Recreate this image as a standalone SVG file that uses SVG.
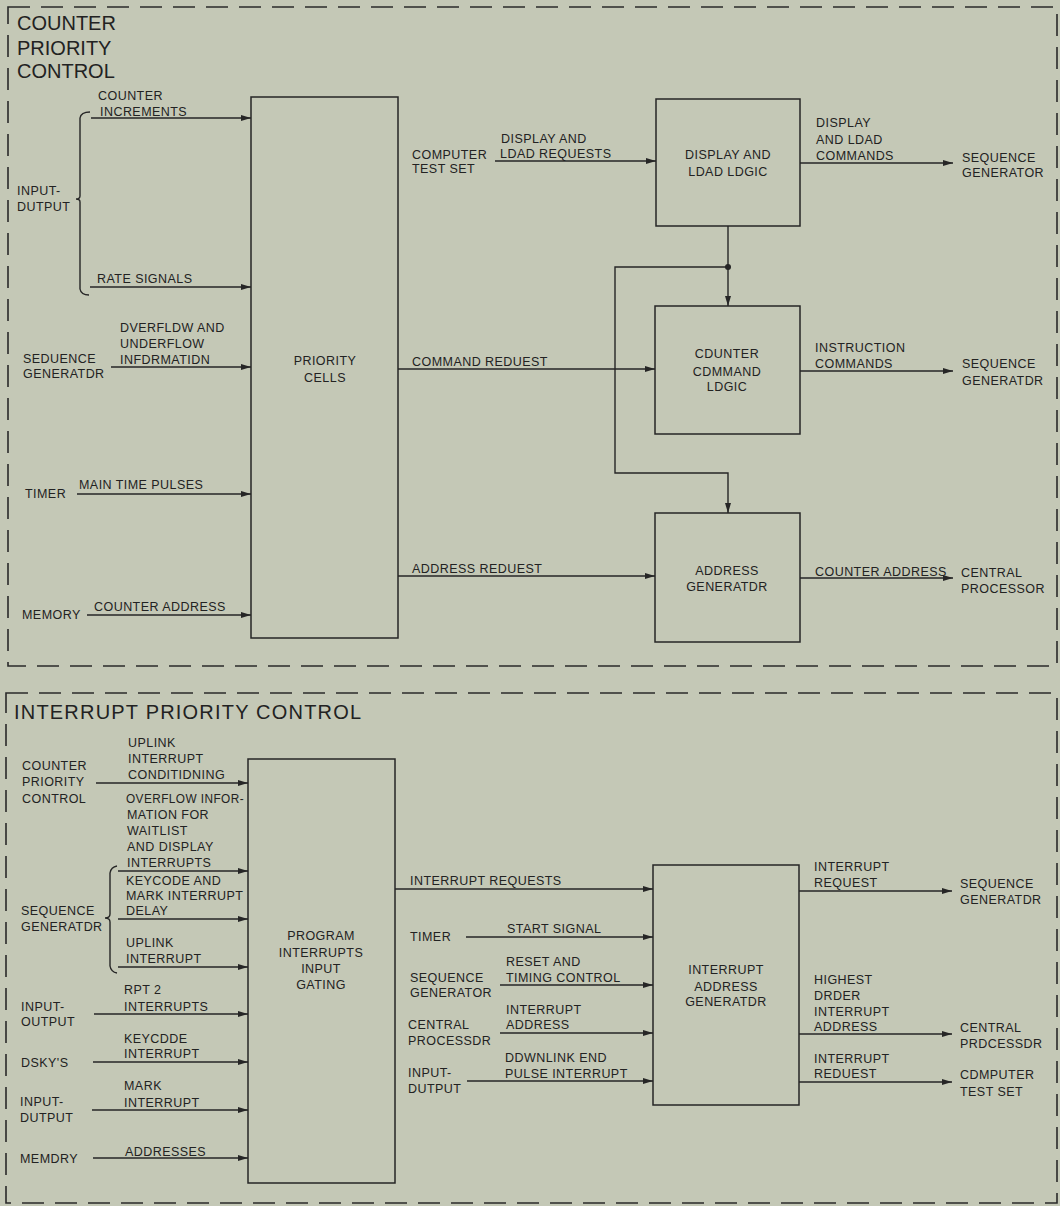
<svg xmlns="http://www.w3.org/2000/svg" width="1060" height="1206" viewBox="0 0 1060 1206">
<defs>
<style>
.bg{fill:#c4c8b6}
.frame{fill:none;stroke:#2a2a2a;stroke-width:1.6;stroke-dasharray:22 11}
.box{fill:none;stroke:#262626;stroke-width:1.5}
.ln{fill:none;stroke:#262626;stroke-width:1.4}
.ar{fill:none;stroke:#262626;stroke-width:1.4;marker-end:url(#ah)}
text{font-family:"Liberation Sans",Arial,sans-serif;fill:#222}
.t{font-size:12.5px;letter-spacing:0.45px}
.c{text-anchor:middle}
.big{font-size:20px}
</style>
<marker id="ah" viewBox="0 0 10 6" refX="10" refY="3" markerWidth="11" markerHeight="6" markerUnits="userSpaceOnUse" orient="auto">
<path d="M0,0 L10,3 L0,6 Z" fill="#262626"/>
</marker>
</defs>
<rect class="bg" x="0" y="0" width="1060" height="1206"/>

<g id="counter-priority-control">
<rect class="frame" x="8" y="7" width="1049" height="659"/>
<text class="big" x="17" y="30">COUNTER</text>
<text class="big" x="17" y="55">PRIORITY</text>
<text class="big" x="17" y="78">CONTROL</text>
</g>

<g id="interrupt-priority-control">
<rect class="frame" x="6" y="693" width="1051" height="510"/>
<text class="big" x="14" y="719" style="letter-spacing:1.2px">INTERRUPT PRIORITY CONTROL</text>
</g>

<g id="priority-cells">
<rect class="box" x="251" y="97" width="147" height="541"/>
<text class="t c" x="325" y="365">PRIORITY</text>
<text class="t c" x="325" y="382">CELLS</text>
</g>

<g id="display-load-logic">
<rect class="box" x="656" y="99" width="144" height="127"/>
<text class="t c" x="728" y="159">DISPLAY AND</text>
<text class="t c" x="728" y="176">LDAD LDGIC</text>
</g>

<g id="counter-command-logic">
<rect class="box" x="655" y="306" width="145" height="128"/>
<text class="t c" x="727" y="358">CDUNTER</text>
<text class="t c" x="727" y="376">CDMMAND</text>
<text class="t c" x="727" y="391">LDGIC</text>
</g>

<g id="address-generator">
<rect class="box" x="655" y="513" width="145" height="129"/>
<text class="t c" x="727" y="575">ADDRESS</text>
<text class="t c" x="727" y="591">GENERATDR</text>
</g>

<g id="program-interrupts-input-gating">
<rect class="box" x="248" y="759" width="147" height="424"/>
<text class="t c" x="321" y="940">PROGRAM</text>
<text class="t c" x="321" y="957">INTERRUPTS</text>
<text class="t c" x="321" y="973">INPUT</text>
<text class="t c" x="321" y="989">GATING</text>
</g>

<g id="interrupt-address-generator">
<rect class="box" x="653" y="865" width="146" height="240"/>
<text class="t c" x="726" y="974">INTERRUPT</text>
<text class="t c" x="726" y="991">ADDRESS</text>
<text class="t c" x="726" y="1006">GENERATDR</text>
</g>

<g id="sources-top">
<text class="t" x="17" y="195">INPUT-</text>
<text class="t" x="17" y="211">DUTPUT</text>
<text class="t" x="23" y="363">SEDUENCE</text>
<text class="t" x="23" y="378">GENERATDR</text>
<text class="t" x="25" y="498">TIMER</text>
<text class="t" x="22" y="619">MEMORY</text>
<text class="t" x="412" y="159">COMPUTER</text>
<text class="t" x="412" y="173">TEST SET</text>
<text class="t" x="962" y="162">SEQUENCE</text>
<text class="t" x="962" y="177">GENERATOR</text>
<text class="t" x="962" y="368">SEQUENCE</text>
<text class="t" x="962" y="385">GENERATDR</text>
<text class="t" x="961" y="577">CENTRAL</text>
<text class="t" x="961" y="593">PROCESSOR</text>
</g>

<g id="sources-bottom">
<text class="t" x="22" y="770">COUNTER</text>
<text class="t" x="22" y="786">PRIORITY</text>
<text class="t" x="22" y="803">CONTROL</text>
<text class="t" x="21" y="915">SEQUENCE</text>
<text class="t" x="21" y="931">GENERATDR</text>
<text class="t" x="21" y="1011">INPUT-</text>
<text class="t" x="21" y="1026">OUTPUT</text>
<text class="t" x="21" y="1067">DSKY'S</text>
<text class="t" x="20" y="1106">INPUT-</text>
<text class="t" x="20" y="1122">DUTPUT</text>
<text class="t" x="20" y="1163">MEMDRY</text>
<text class="t" x="410" y="941">TIMER</text>
<text class="t" x="410" y="982">SEQUENCE</text>
<text class="t" x="410" y="997">GENERATOR</text>
<text class="t" x="408" y="1029">CENTRAL</text>
<text class="t" x="408" y="1045">PROCESSDR</text>
<text class="t" x="408" y="1077">INPUT-</text>
<text class="t" x="408" y="1093">DUTPUT</text>
<text class="t" x="960" y="888">SEQUENCE</text>
<text class="t" x="960" y="904">GENERATDR</text>
<text class="t" x="960" y="1032">CENTRAL</text>
<text class="t" x="960" y="1048">PRDCESSDR</text>
<text class="t" x="960" y="1079">CDMPUTER</text>
<text class="t" x="960" y="1096">TEST SET</text>
</g>

<g id="connectors">
<path class="ln" d="M90,112 Q81,112 80,118 L80,196 Q80,199 76,199 Q80,199 80,202 L80,289 Q81,295 89,295"/>
<line class="ar" x1="91" y1="118" x2="251" y2="118"/>
<line class="ar" x1="90" y1="287" x2="251" y2="287"/>
<line class="ar" x1="111" y1="367" x2="251" y2="367"/>
<line class="ar" x1="77" y1="494" x2="251" y2="494"/>
<line class="ar" x1="87" y1="615" x2="251" y2="615"/>
<line class="ar" x1="495" y1="161" x2="656" y2="161"/>
<line class="ar" x1="800" y1="163" x2="953" y2="163"/>
<line class="ar" x1="728" y1="226" x2="728" y2="306"/>
<circle cx="728" cy="267" r="3" fill="#262626"/>
<path class="ar" d="M728,267 L615,267 L615,473 L728,473 L728,513"/>
<line class="ar" x1="398" y1="369" x2="655" y2="369"/>
<line class="ar" x1="800" y1="371" x2="953" y2="371"/>
<line class="ar" x1="398" y1="576" x2="655" y2="576"/>
<line class="ar" x1="800" y1="578" x2="953" y2="578"/>
<path class="ln" d="M117,866 Q111,867 110,873 L110,914 Q110,918 105,918 Q110,918 110,922 L110,966 Q111,972 117,973"/>
<line class="ar" x1="96" y1="783" x2="248" y2="783"/>
<line class="ar" x1="118" y1="871" x2="248" y2="871"/>
<line class="ar" x1="118" y1="919" x2="248" y2="919"/>
<line class="ar" x1="118" y1="967" x2="248" y2="967"/>
<line class="ar" x1="94" y1="1014" x2="248" y2="1014"/>
<line class="ar" x1="93" y1="1062" x2="248" y2="1062"/>
<line class="ar" x1="92" y1="1110" x2="248" y2="1110"/>
<line class="ar" x1="93" y1="1158" x2="248" y2="1158"/>
<line class="ar" x1="395" y1="889" x2="653" y2="889"/>
<line class="ar" x1="466" y1="937" x2="653" y2="937"/>
<line class="ar" x1="500" y1="985" x2="653" y2="985"/>
<line class="ar" x1="500" y1="1033" x2="653" y2="1033"/>
<line class="ar" x1="467" y1="1081" x2="653" y2="1081"/>
<line class="ar" x1="799" y1="891" x2="952" y2="891"/>
<line class="ar" x1="799" y1="1034" x2="952" y2="1034"/>
<line class="ar" x1="799" y1="1082" x2="952" y2="1082"/>
</g>

<g id="connector-labels">
<text class="t" x="98" y="100">COUNTER</text>
<text class="t" x="100" y="116">INCREMENTS</text>
<text class="t" x="97" y="283">RATE SIGNALS</text>
<text class="t" x="120" y="332">DVERFLDW AND</text>
<text class="t" x="120" y="348">UNDERFLOW</text>
<text class="t" x="120" y="364">INFDRMATIDN</text>
<text class="t" x="79" y="489">MAIN TIME PULSES</text>
<text class="t" x="94" y="611">COUNTER ADDRESS</text>
<text class="t" x="501" y="143">DISPLAY AND</text>
<text class="t" x="500" y="158">LDAD REQUESTS</text>
<text class="t" x="816" y="127">DISPLAY</text>
<text class="t" x="816" y="144">AND LDAD</text>
<text class="t" x="816" y="160">COMMANDS</text>
<text class="t" x="412" y="366">COMMAND REDUEST</text>
<text class="t" x="815" y="352">INSTRUCTION</text>
<text class="t" x="815" y="368">COMMANDS</text>
<text class="t" x="412" y="573">ADDRESS REDUEST</text>
<text class="t" x="815" y="576">COUNTER ADDRESS</text>

<text class="t" x="128" y="747">UPLINK</text>
<text class="t" x="128" y="763">INTERRUPT</text>
<text class="t" x="128" y="779">CONDITIDNING</text>
<text class="t" x="126" y="803" textLength="118" lengthAdjust="spacingAndGlyphs">OVERFLOW INFOR-</text>
<text class="t" x="127" y="819">MATION FOR</text>
<text class="t" x="127" y="835">WAITLIST</text>
<text class="t" x="127" y="851">AND DISPLAY</text>
<text class="t" x="127" y="867">INTERRUPTS</text>
<text class="t" x="126" y="885">KEYCODE AND</text>
<text class="t" x="126" y="900">MARK INTERRUPT</text>
<text class="t" x="126" y="915">DELAY</text>
<text class="t" x="126" y="947">UPLINK</text>
<text class="t" x="126" y="963">INTERRUPT</text>
<text class="t" x="124" y="994">RPT 2</text>
<text class="t" x="124" y="1011">INTERRUPTS</text>
<text class="t" x="124" y="1043">KEYCDDE</text>
<text class="t" x="124" y="1058">INTERRUPT</text>
<text class="t" x="124" y="1090">MARK</text>
<text class="t" x="124" y="1107">INTERRUPT</text>
<text class="t" x="125" y="1156">ADDRESSES</text>
<text class="t" x="410" y="885">INTERRUPT REQUESTS</text>
<text class="t" x="507" y="933">START SIGNAL</text>
<text class="t" x="506" y="966">RESET AND</text>
<text class="t" x="506" y="982">TIMING CONTROL</text>
<text class="t" x="506" y="1014">INTERRUPT</text>
<text class="t" x="506" y="1029">ADDRESS</text>
<text class="t" x="505" y="1062">DDWNLINK END</text>
<text class="t" x="505" y="1078">PULSE INTERRUPT</text>
<text class="t" x="814" y="871">INTERRUPT</text>
<text class="t" x="814" y="887">REQUEST</text>
<text class="t" x="814" y="984">HIGHEST</text>
<text class="t" x="814" y="1000">DRDER</text>
<text class="t" x="814" y="1016">INTERRUPT</text>
<text class="t" x="814" y="1031">ADDRESS</text>
<text class="t" x="814" y="1063">INTERRUPT</text>
<text class="t" x="814" y="1078">REDUEST</text>
</g>
</svg>
